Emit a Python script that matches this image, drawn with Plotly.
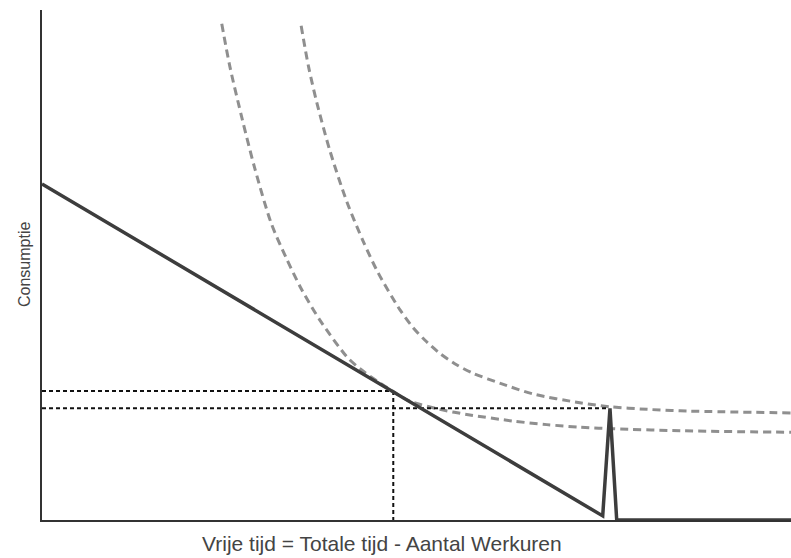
import plotly.graph_objects as go

# ---- data (arbitrary units 0..100) ----
budget_x = [0, 74.86, 75.83, 76.73, 100]
budget_y = [65.9, 0.8, 21.9, 0.0, 0.0]

ic_low_x = [24.0, 25.1, 26.7, 28.4, 30.6, 32.6, 34.7, 37.1, 40.7, 42.5, 44.7,
            46.9, 49.1, 53.1, 56.7, 62.9, 67.4, 71.8, 76.2, 85.2, 100]
ic_low_y = [97.3, 88.8, 78.8, 69.0, 58.2, 51.4, 45.1, 39.2, 32.0, 29.6, 27.3,
            25.2, 23.3, 21.7, 20.7, 19.4, 18.7, 18.2, 17.9, 17.5, 17.2]

ic_high_x = [34.6, 35.6, 36.7, 38.4, 40.7, 42.9, 44.9, 47.8, 49.5, 51.1, 53.1,
             55.4, 57.5, 61.2, 65.6, 71.8, 75.8, 80.8, 85.2, 100]
ic_high_y = [96.9, 88.8, 81.8, 72.6, 62.4, 54.6, 48.4, 41.2, 37.8, 35.3, 32.7,
             30.4, 28.8, 26.8, 24.7, 23.0, 22.2, 21.7, 21.4, 21.0]

# guide (dotted) lines
guide1_x = [0, 46.9]
guide1_y = [25.3, 25.3]
guide2_x = [0, 75.6]
guide2_y = [21.9, 21.9]
guide3_x = [46.9, 46.9]
guide3_y = [25.3, 0.0]
guide4_x = [47.6, 76.8]
guide4_y = [-0.2, -0.2]

x_title = "Vrije tijd = Totale tijd - Aantal Werkuren"
y_title = "Consumptie"

fig = go.Figure()

ic_style = dict(color="#8f8f8f", width=3, dash="8px,5px", shape="spline", smoothing=0.8)
fig.add_trace(go.Scatter(x=ic_low_x, y=ic_low_y, mode="lines", line=ic_style,
                         hoverinfo="skip", showlegend=False))
fig.add_trace(go.Scatter(x=ic_high_x, y=ic_high_y, mode="lines", line=ic_style,
                         hoverinfo="skip", showlegend=False))

dot_style = dict(color="#111111", width=2, dash="4px,3px")
for gx, gy in [(guide1_x, guide1_y), (guide2_x, guide2_y),
               (guide3_x, guide3_y), (guide4_x, guide4_y)]:
    fig.add_trace(go.Scatter(x=gx, y=gy, mode="lines", line=dot_style,
                             hoverinfo="skip", showlegend=False))

fig.add_trace(go.Scatter(x=budget_x, y=budget_y, mode="lines",
                         line=dict(color="#3d3d3d", width=3.5),
                         hoverinfo="skip", showlegend=False))

fig.update_xaxes(range=[0, 100], showgrid=False, zeroline=False, showticklabels=False,
                 ticks="", showline=True, linecolor="#333333", linewidth=2)
fig.update_yaxes(range=[0, 100], showgrid=False, zeroline=False, showticklabels=False,
                 ticks="", showline=True, linecolor="#333333", linewidth=2)

fig.update_layout(
    width=791, height=558,
    margin=dict(l=42, r=0, t=10, b=38),
    paper_bgcolor="white", plot_bgcolor="white",
    hovermode=False,
    annotations=[
        dict(text=x_title, xref="paper", yref="paper", x=340 / 749, y=-23 / 510,
             xanchor="center", yanchor="middle", showarrow=False,
             font=dict(family="Liberation Sans, Arial, sans-serif", size=21, color="#444444")),
        dict(text=y_title, xref="paper", yref="paper", x=-18 / 749, y=0.5, textangle=-90,
             xanchor="center", yanchor="middle", showarrow=False,
             font=dict(family="Liberation Sans, Arial, sans-serif", size=16, color="#444444")),
    ],
)

# remove the browser's default 8px body margin so the figure sits at the page corner
fig.write_html(
    "out.html",
    config={"displayModeBar": False, "staticPlot": True},
    post_script="document.body.style.margin='0px';document.body.style.overflow='hidden';",
)
